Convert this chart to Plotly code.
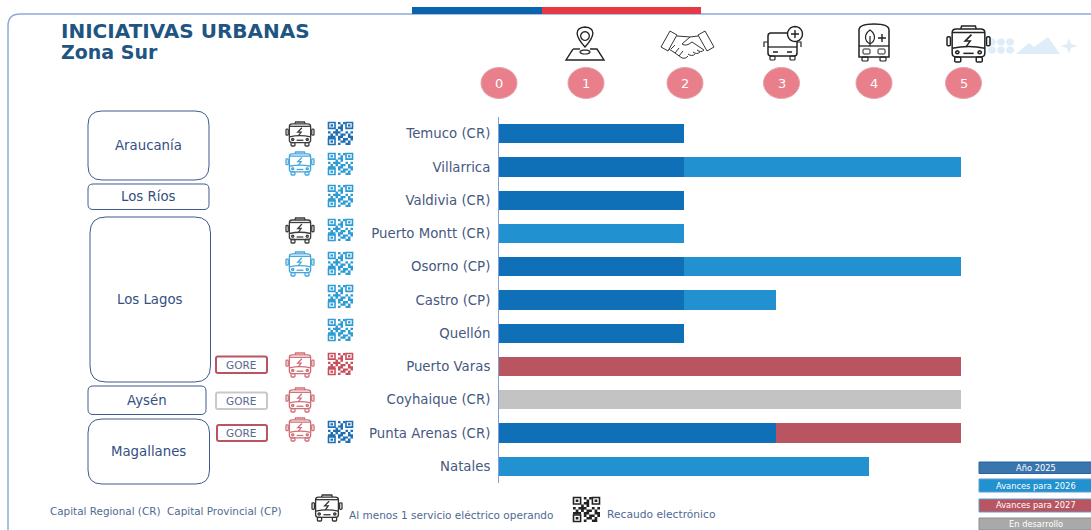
import math
import re
import plotly.graph_objects as go

W, H = 1091, 530
PLOT_L, PLOT_R, PLOT_T, PLOT_B = 499, 961, 117, 483

cities = ["Temuco (CR)", "Villarrica", "Valdivia (CR)", "Puerto Montt (CR)", "Osorno (CP)",
          "Castro (CP)", "Quellón", "Puerto Varas", "Coyhaique (CR)", "Punta Arenas (CR)", "Natales"]
anio_2025 = [2, 2, 2, 0, 2, 2, 2, 0, 0, 3, 0]
avances_2026 = [0, 3, 0, 2, 3, 1, 0, 0, 0, 0, 4]
avances_2027 = [0, 0, 0, 0, 0, 0, 0, 5, 0, 2, 0]
en_desarrollo = [0, 0, 0, 0, 0, 0, 0, 0, 5, 0, 0]
stages = ["0", "1", "2", "3", "4", "5"]

BLUE25, BLUE26, RED27, GREY = "#0f6fb7", "#2192cf", "#b95560", "#c3c3c3"
TXT = "#46597f"
NAVY = "#3f5a8c"
FONT = "DejaVu Sans"


def px(x):
    return (x - PLOT_L) / (PLOT_R - PLOT_L)


def py(y):
    return (PLOT_B - y) / (PLOT_B - PLOT_T)


shapes, annots = [], []


def rect(x0, y0, x1, y1, fill="rgba(0,0,0,0)", line=None, lw=1):
    shapes.append(dict(type="rect", xref="paper", yref="paper", x0=px(x0), x1=px(x1), y0=py(y0), y1=py(y1),
                       fillcolor=fill, line=dict(color=line or "rgba(0,0,0,0)", width=lw if line else 0), layer="above"))


def path_abs(d, fill="rgba(0,0,0,0)", line=None, lw=1):
    toks = re.findall(r"[MLQCZ]|-?\d+\.?\d*", d)
    out, isx = [], True
    for t in toks:
        if t in "MLQCZ":
            out.append(t)
            isx = True
        else:
            v = float(t)
            out.append(f"{px(v):.5f}" if isx else f"{py(v):.5f}")
            isx = not isx
    shapes.append(dict(type="path", xref="paper", yref="paper", path=" ".join(out), fillcolor=fill,
                       line=dict(color=line or "rgba(0,0,0,0)", width=lw if line else 0), layer="above"))


def unit(d, x0, y0, w, h, **kw):
    toks = re.findall(r"[MLQCZ]|-?\d+\.?\d*", d)
    out, isx = [], True
    for t in toks:
        if t in "MLQCZ":
            out.append(t)
            isx = True
        else:
            v = float(t)
            out.append(f"{x0 + v * w:.2f}" if isx else f"{y0 + v * h:.2f}")
            isx = not isx
    path_abs(" ".join(out), **kw)


def rrect(x0, y0, x1, y1, r):
    return (f"M {x0 + r} {y0} L {x1 - r} {y0} Q {x1} {y0} {x1} {y0 + r} L {x1} {y1 - r} Q {x1} {y1} {x1 - r} {y1} "
            f"L {x0 + r} {y1} Q {x0} {y1} {x0} {y1 - r} L {x0} {y0 + r} Q {x0} {y0} {x0 + r} {y0} Z")


def circle_path(cx, cy, rx, ry, n=20):
    pts = [(cx + rx * math.cos(2 * math.pi * k / n), cy + ry * math.sin(2 * math.pi * k / n)) for k in range(n)]
    return "M " + " L ".join(f"{a:.3f} {b:.3f}" for a, b in pts) + " Z"


def text(x, y, s, size=11, color=TXT, anchor="left", bold=False):
    annots.append(dict(xref="paper", yref="paper", x=px(x), y=py(y), text=f"<b>{s}</b>" if bold else s,
                       showarrow=False, xanchor=anchor, yanchor="middle", align=anchor,
                       font=dict(family=FONT, size=size, color=color), borderpad=0, borderwidth=0))


def ebus(x0, y0, x1, y1, c, lw=1.3):
    w, h = x1 - x0, y1 - y0
    kw = dict(line=c, lw=lw)
    unit(rrect(0.12, 0.08, 0.88, 0.86, 0.1), x0, y0, w, h, **kw)
    unit("M 0.32 0.08 L 0.34 0 L 0.66 0 L 0.68 0.08", x0, y0, w, h, **kw)
    unit("M 0.12 0.18 L 0.88 0.18", x0, y0, w, h, **kw)
    unit(rrect(0, 0.3, 0.08, 0.55, 0.03), x0, y0, w, h, **kw)
    unit(rrect(0.92, 0.3, 1, 0.55, 0.03), x0, y0, w, h, **kw)
    unit("M 0.12 0.62 Q 0.5 0.52 0.88 0.62", x0, y0, w, h, **kw)
    unit("M 0.57 0.24 L 0.42 0.42 L 0.54 0.42 L 0.44 0.58", x0, y0, w, h, **kw)
    unit("M 0.38 0.76 L 0.62 0.76", x0, y0, w, h, **kw)
    unit(circle_path(0.24, 0.73, 0.04, 0.04, 8), x0, y0, w, h, **kw)
    unit(circle_path(0.76, 0.73, 0.04, 0.04, 8), x0, y0, w, h, **kw)
    unit(rrect(0.18, 0.86, 0.32, 1, 0.03), x0, y0, w, h, **kw)
    unit(rrect(0.68, 0.86, 0.82, 1, 0.03), x0, y0, w, h, **kw)


QR = ["1110101110", "1010010101", "1110110111", "0001010000", "1011100101",
      "0101011010", "1110110011", "1010101101", "1110011010", "0000100110"]


def qr(x0, y0, x1, y1, c):
    w, h = (x1 - x0) / 10, (y1 - y0) / 10
    d = []
    for r, row in enumerate(QR):
        for k, v in enumerate(row):
            if v == "1" and not ((r < 3 and k < 3) or (r < 3 and k > 6) or (r > 6 and k < 3)):
                a, b = x0 + k * w, y0 + r * h
                d.append(f"M {a:.2f} {b:.2f} L {a + w:.2f} {b:.2f} L {a + w:.2f} {b + h:.2f} L {a:.2f} {b + h:.2f} Z")
    path_abs(" ".join(d), fill=c)
    for fx, fy in ((0, 0), (7, 0), (0, 7)):
        a, b = x0 + fx * w, y0 + fy * h
        rect(a + .5, b + .5, a + 3 * w - .5, b + 3 * h - .5, line=c, lw=1.6)
        rect(a + w, b + h, a + 2 * w, b + 2 * h, fill=c)


# frame and top band
path_abs("M 1091 14 L 20 14 Q 8 14 8 26 L 8 530", line="#8eaadb", lw=1.5)
rect(412, 7, 542, 14, fill="#0a64ad")
rect(542, 7, 701, 14, fill="#e63946")

# watermark
for cx in (992, 1001, 1010):
    for cy in (42, 50):
        path_abs(circle_path(cx, cy, 4, 3.6), fill="#deedf7")
path_abs("M 1016 54 L 1029 43 L 1034 47 L 1048 37 L 1060 54 Z", fill="#deedf7")
path_abs("M 1069 38 L 1071 44 L 1078 46 L 1071 48 L 1069 54 L 1067 48 L 1060 46 L 1067 44 Z", fill="#deedf7")

# title
text(61, 31, "INICIATIVAS URBANAS", size=20, color="#1f5582", bold=True)
text(61, 52, "Zona Sur", size=19, color="#1f5582", bold=True)

# stage circles
circle_x = [499, 586, 685, 781.5, 874, 963.5]
for cx, s in zip(circle_x, stages):
    shapes.append(dict(type="circle", xref="paper", yref="paper", x0=px(cx - 18), x1=px(cx + 18),
                       y0=py(83 + 15.5), y1=py(83 - 15.5), fillcolor="#e87f8a",
                       line=dict(color="#e4a3aa", width=1), layer="above"))
    text(cx, 83.5, s, size=13, color="#ffffff", anchor="center")

# stage icons: pin
K = "#222222"
path_abs("M 585 47 C 575 36 574 28 585 27 C 596 28 595 36 585 47 Z", line=K, lw=1.4)
path_abs(circle_path(585, 36, 4.3, 4.3), line=K, lw=1.3)
path_abs("M 573 49 L 566 60 L 604 60 L 597 49 L 590 49", line=K, lw=1.4)
path_abs("M 580 49 L 573 49", line=K, lw=1.4)
path_abs(circle_path(585, 52, 5, 2), line=K, lw=1.2)
# handshake
H1 = "#333333"
path_abs("M 670 31 L 661 47 L 668 51 L 677 35 Z", line=H1, lw=1)
path_abs("M 705 31 L 714 47 L 707 51 L 698 35 Z", line=H1, lw=1)
path_abs("M 677 36 L 690 37 L 698 36 M 690 37 L 682 44 Q 686 47 692 42 L 704 50 Q 701 53 697 50 M 700 52 Q 697 55 693 52 "
         "M 695 54 Q 692 57 688 54 M 669 49 L 675 53 L 682 58 Q 686 59 688 56 M 675 45 L 671 49 M 679 48 L 675 53 M 683 51 L 679 56",
         line=H1, lw=1)
# bus plus
path_abs(rrect(768, 33, 797, 56, 3), line=K, lw=1.5)
path_abs("M 768 47 L 797 47", line=K, lw=1.3)
path_abs("M 773 52 L 778 52 M 787 52 L 792 52", line=K, lw=1.5)
path_abs("M 768 42 L 764 42 L 764 47 M 797 42 L 801 42 L 801 47", line=K, lw=1.2)
path_abs(rrect(770, 56, 775, 60, 1), line=K, lw=1.2)
path_abs(rrect(790, 56, 795, 60, 1), line=K, lw=1.2)
path_abs(circle_path(795, 34, 7.5, 7.5), fill="#ffffff", line=K, lw=1.4)
path_abs("M 791 34 L 799 34 M 795 30 L 795 38", line=K, lw=1.4)
# leaf bus
path_abs("M 859 30 Q 859 24 874 24 Q 889 24 889 30 L 889 57 L 859 57 Z", line=K, lw=1.5)
path_abs("M 859 46 L 889 46", line=K, lw=1.3)
path_abs(rrect(863, 49, 870, 54, 1), line=K, lw=1)
path_abs(rrect(878, 49, 885, 54, 1), line=K, lw=1)
path_abs(rrect(862, 57, 868, 61, 1), line=K, lw=1.2)
path_abs(rrect(880, 57, 886, 61, 1), line=K, lw=1.2)
path_abs("M 870 30 C 864 34 864 41 870 44 C 876 41 876 34 870 30 Z M 870 36 L 870 46", line=K, lw=1.2)
path_abs("M 878 38 L 886 38 M 882 34 L 882 42", line=K, lw=1.4)
# electric bus
ebus(947, 26, 990, 62, K, lw=1.5)

# region boxes
regions = [("Araucanía", 88, 111, 209, 180, 14), ("Los Ríos", 88, 184, 209, 209.5, 5),
           ("Los Lagos", 90, 217, 210.5, 382, 16), ("Aysén", 88, 386, 206, 414.5, 5),
           ("Magallanes", 88, 419, 209.5, 484, 14)]
for name, a, b, c, d, r in regions:
    path_abs(rrect(a, b, c, d, r), line=NAVY, lw=1)
    text((a + c) / 2, (b + d) / 2, name, size=13.3, color="#34507f", anchor="center")

# GORE tags
for a, b, c, d, col in [(216, 356.5, 267, 373, RED27), (216, 392.5, 267, 409, "#c9c9c9"), (217, 425, 267, 441, RED27)]:
    path_abs(rrect(a, b, c, d, 2), line=col, lw=2)
    text((a + c) / 2 - 1, (b + d) / 2, "GORE", size=10.5, color="#56688c", anchor="center")

# row icons
DK, LB, RD = "#3d3d3d", "#45a7dc", "#cf6f78"
for y0, y1, c in [(122, 146, DK), (152, 175, LB), (218, 243, DK), (252, 276, LB),
                  (353, 377, RD), (388, 412, RD), (418, 441, RD)]:
    ebus(286, y0, 314, y1, c)
QB, QL, QR_R = "#1f6fb5", "#2d9bd4", "#c8505c"
for y0, y1, c in [(122, 145, QB), (153, 175, QL), (185, 207, QL), (219, 241, QL), (252, 275, QL),
                  (285, 308, QL), (319, 341, QL), (353, 375, QR_R), (421, 443, QB)]:
    qr(328, y0, 353, y1, c)

# foot notes
text(50, 510.5, "Capital Regional (CR)&#160;&#160;Capital Provincial (CP)", size=10.4, color="#4f6a92")
ebus(312, 495, 342, 521, "#333333", lw=1.3)
text(349, 514.5, "Al menos 1 servicio eléctrico operando", size=10.5, color="#4f6a92")
qr(573, 497, 600, 522, "#222222")
text(607, 514.5, "Recaudo electrónico", size=10.7, color="#4f6a92")

# legend boxes
for label, y0, y1, fill, border in [("Año 2025", 462, 473.5, "#3b75ae", "#24639f"),
                                    ("Avances para 2026", 479, 492, BLUE26, "#5f9bd0"),
                                    ("Avances para 2027", 499, 512, RED27, "#5f9bd0"),
                                    ("En desarrollo", 518, 530, "#a9a9a9", "#8f8f8f")]:
    rect(979, y0, 1092, y1, fill=fill, line=border, lw=1)
    text(1036, (y0 + y1) / 2, label, size=8.3, color="#ffffff", anchor="center")

fig = go.Figure()
for name, vals, col in [("Año 2025", anio_2025, BLUE25), ("Avances para 2026", avances_2026, BLUE26),
                        ("Avances para 2027", avances_2027, RED27), ("En desarrollo", en_desarrollo, GREY)]:
    fig.add_trace(go.Bar(name=name, y=cities, x=vals, orientation="h", marker=dict(color=col, line=dict(width=0))))

fig.update_layout(
    width=W, height=H, autosize=False, barmode="stack", bargap=0.42, showlegend=False,
    paper_bgcolor="#ffffff", plot_bgcolor="#ffffff",
    margin=dict(l=PLOT_L, r=W - PLOT_R, t=PLOT_T, b=H - PLOT_B, pad=0),
    xaxis=dict(range=[0, 5], visible=False, fixedrange=True),
    yaxis=dict(autorange="reversed", showgrid=False, showline=True, linecolor="#7f9fd6", linewidth=1,
               ticks="", ticklabelstandoff=5, tickfont=dict(family=FONT, size=13.3, color=TXT), fixedrange=True),
    shapes=shapes, annotations=annots,
)
fig.write_html("out.html", config=dict(displayModeBar=False),
               post_script="document.body.style.margin='0';document.body.style.overflow='hidden';")
